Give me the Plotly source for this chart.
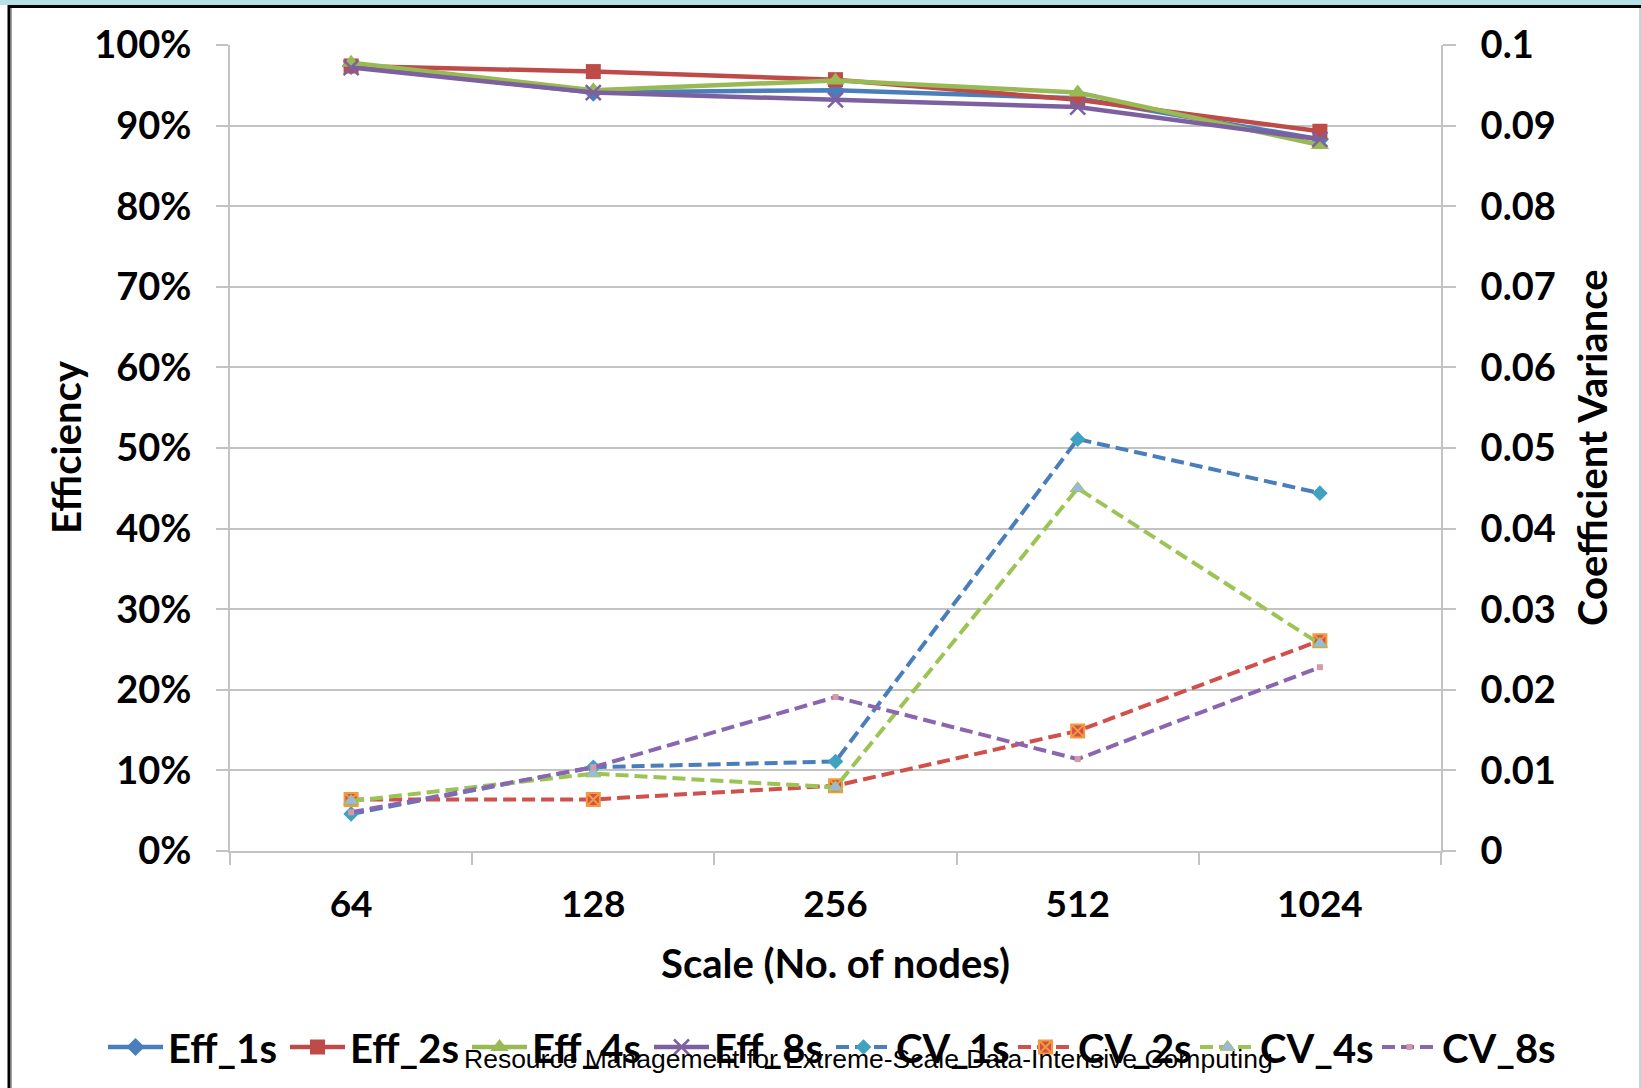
import plotly.graph_objects as go

# ---------------- data ----------------
scales = ["64", "128", "256", "512", "1024"]

eff_1s = [0.974, 0.941, 0.944, 0.934, 0.883]
eff_2s = [0.974, 0.967, 0.957, 0.932, 0.893]
eff_4s = [0.978, 0.944, 0.956, 0.941, 0.876]
eff_8s = [0.972, 0.941, 0.932, 0.923, 0.883]

cv_1s = [0.0046, 0.0104, 0.0111, 0.0511, 0.0444]
cv_2s = [0.0064, 0.0064, 0.0081, 0.0149, 0.0261]
cv_4s = [0.0062, 0.0096, 0.0079, 0.0450, 0.0257]
cv_8s = [0.0048, 0.0104, 0.0191, 0.0114, 0.0228]

eff_tickvals = [0.0, 0.1, 0.2, 0.3, 0.4, 0.5, 0.6, 0.7, 0.8, 0.9, 1.0]
eff_ticktext = ["0%", "10%", "20%", "30%", "40%", "50%", "60%", "70%", "80%", "90%", "100%"]
cv_tickvals = [0.0, 0.01, 0.02, 0.03, 0.04, 0.05, 0.06, 0.07, 0.08, 0.09, 0.1]
cv_ticktext = ["0", "0.01", "0.02", "0.03", "0.04", "0.05", "0.06", "0.07", "0.08", "0.09", "0.1"]

# ---------------- styling ----------------
FONT = "Lato, 'Open Sans', sans-serif"
BLUE, RED, GREEN, PURPLE = "#4A7EBB", "#BE4B48", "#98B954", "#7D60A0"
GRID = "#C3C3C3"
W, H = 1641, 1088
L, R, T, B = 230, 200, 45, 237
PW, PH = W - L - R, H - T - B

def px_x(x):
    return (x - L) / PW

def px_y(y):
    return (H - B - y) / PH

fig = go.Figure()

eff_series = [
    ("Eff_1s", eff_1s, BLUE, dict(symbol="diamond", size=14, color=BLUE)),
    ("Eff_2s", eff_2s, RED, dict(symbol="square", size=15, color=RED)),
    ("Eff_4s", eff_4s, GREEN, dict(symbol="triangle-up", size=16, color=GREEN)),
    ("Eff_8s", eff_8s, PURPLE, dict(symbol="x-thin", size=15, color=PURPLE,
                                    line=dict(color=PURPLE, width=2.5))),
]
for name, vals, col, mk in eff_series:
    fig.add_trace(go.Scatter(x=scales, y=vals, name=name, mode="lines+markers",
                             line=dict(color=col, width=4.5), marker=mk, yaxis="y",
                             legend="legend"))

cv_series = [
    ("CV_1s", cv_1s, BLUE, dict(symbol="diamond", size=12, color="#3FA2C0")),
    ("CV_2s", cv_2s, "#D0504B", dict(symbol="square-x", size=13, color="#D0504B",
                                     line=dict(color="#F29A3C", width=2))),
    ("CV_4s", cv_4s, "#9BC455", dict(symbol="triangle-up", size=13, color="#9DB8DC",
                                     line=dict(color="#9BC455", width=1))),
    ("CV_8s", cv_8s, "#8A66B0", dict(symbol="square", size=6, color="#D59AA8")),
]
for name, vals, col, mk in cv_series:
    fig.add_trace(go.Scatter(x=scales, y=vals, name=name, mode="lines+markers",
                             line=dict(color=col, width=4, dash="13px,6px"),
                             marker=mk, yaxis="y2", legend="legend2"))

axis_font = dict(family=FONT, size=38, color="black", weight="bold")
xtick_font = dict(family=FONT, size=37, color="black", weight="bold")
legend_font = dict(family=FONT, size=40, color="black", weight="bold")

legend_common = dict(orientation="h", xanchor="left", yanchor="middle",
                     font=legend_font, itemwidth=55, entrywidth=112,
                     entrywidthmode="pixels", bgcolor="rgba(0,0,0,0)",
                     borderwidth=0)

fig.update_layout(
    width=W, height=H,
    margin=dict(l=L, r=R, t=T, b=B, pad=0, autoexpand=False),
    paper_bgcolor="white", plot_bgcolor="white",
    font=dict(family=FONT, color="black"),
    xaxis=dict(type="category", range=[-0.5, 4.5], showline=True, linecolor=GRID,
               linewidth=2, showgrid=False, ticks="outside", tickson="boundaries",
               ticklen=12, tickcolor=GRID, tickwidth=1.5, tickfont=xtick_font,
               ticklabelstandoff=20, zeroline=False),
    yaxis=dict(range=[0, 1], tickvals=eff_tickvals, ticktext=eff_ticktext,
               showline=True, linecolor=GRID, linewidth=2, showgrid=True,
               gridcolor=GRID, gridwidth=1.5, ticks="outside", ticklen=12,
               tickcolor=GRID, tickwidth=1.5, tickfont=axis_font,
               ticklabelstandoff=17, zeroline=False),
    yaxis2=dict(range=[0, 0.1], tickvals=cv_tickvals, ticktext=cv_ticktext,
                overlaying="y", side="right", showline=True, linecolor=GRID,
                linewidth=2, showgrid=False, ticks="outside", ticklen=13,
                tickcolor=GRID, tickwidth=1.5, tickfont=axis_font,
                ticklabelstandoff=17, zeroline=False),
    legend=dict(x=px_x(103), y=px_y(1047), **legend_common),
    legend2=dict(x=px_x(103 + 4 * 182), y=px_y(1047), **legend_common),
    showlegend=True,
)

annos = [
    dict(text="Efficiency", x=px_x(66), y=px_y(447), textangle=-90),
    dict(text="Coefficient Variance", x=px_x(1592), y=px_y(448), textangle=-90),
    dict(text="Scale (No. of nodes)", x=px_x(835), y=px_y(963), textangle=0),
]
for a in annos:
    fig.add_annotation(xref="paper", yref="paper", showarrow=False,
                       xanchor="center", yanchor="middle",
                       font=dict(family=FONT, size=40, color="black", weight="bold"), **a)

fig.add_annotation(xref="paper", yref="paper", showarrow=False, xanchor="center",
                   yanchor="middle", x=px_x(868), y=px_y(1059),
                   text="Resource Management for Extreme-Scale Data-Intensive Computing",
                   font=dict(family="'Liberation Sans', Arial, sans-serif",
                             size=26.5, color="black"))

# decorative frame
fig.add_shape(type="rect", xref="paper", yref="paper", x0=px_x(-20), x1=px_x(W + 20),
              y0=px_y(5), y1=px_y(-20), fillcolor="#B7E0E6", line=dict(width=0),
              layer="above")
fig.add_shape(type="line", xref="paper", yref="paper", x0=px_x(9), x1=px_x(W + 20),
              y0=px_y(6.5), y1=px_y(6.5), line=dict(color="black", width=3), layer="above")
fig.add_shape(type="line", xref="paper", yref="paper", x0=px_x(9), x1=px_x(9),
              y0=px_y(5), y1=px_y(H + 20), line=dict(color="black", width=3), layer="above")
fig.add_shape(type="line", xref="paper", yref="paper", x0=px_x(11.5), x1=px_x(11.5),
              y0=px_y(8), y1=px_y(H + 20), line=dict(color="#A0A0A0", width=1), layer="above")
fig.add_shape(type="line", xref="paper", yref="paper", x0=px_x(1640), x1=px_x(1640),
              y0=px_y(8), y1=px_y(H + 20), line=dict(color="#A0A0A0", width=1), layer="above")

fig.write_html("out.html", config={"displayModeBar": False},
               post_script="document.body.style.margin='0';document.body.style.overflow='hidden';")
